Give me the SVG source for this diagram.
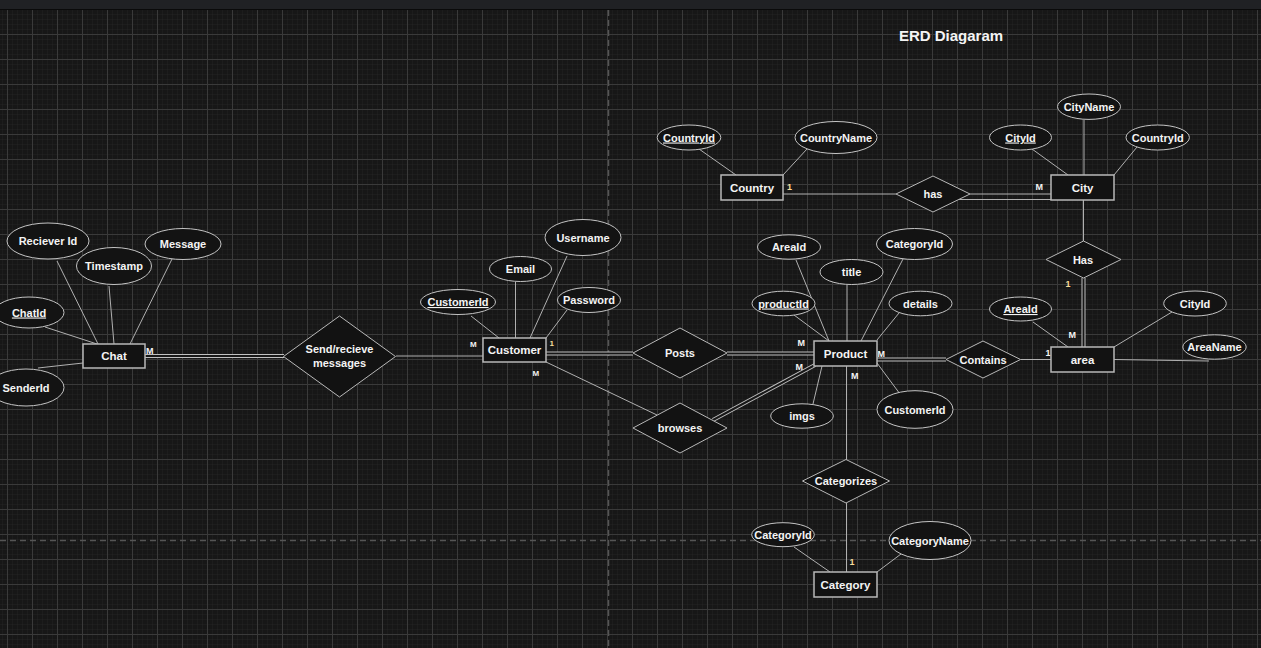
<svg xmlns="http://www.w3.org/2000/svg" width="1261" height="648" viewBox="0 0 1261 648">
<defs>
<pattern id="minor" x="7" y="9" width="5" height="5" patternUnits="userSpaceOnUse">
<path d="M0 0H5M0 0V5" stroke="#232323" stroke-width="1" fill="none"/>
</pattern>
<pattern id="major" x="7" y="9" width="25" height="25" patternUnits="userSpaceOnUse">
<path d="M0.5 0V25M0 0.5H25" stroke="#3a3a3a" stroke-width="1" fill="none"/>
</pattern>
<style>
.ent{fill:#121212;stroke:#b8b8b8;stroke-width:1.5}
.att{fill:#131313;stroke:#c4c4c4;stroke-width:1}
.rel{fill:#121212;stroke:#b8b8b8;stroke-width:1}
text{font-family:"Liberation Sans",Arial,sans-serif;font-weight:bold;fill:#f4f4f4;text-anchor:middle}
.t{font-size:11px}
.te{font-size:11.5px}
.u{text-decoration:underline}
.c{font-size:9px;text-anchor:start}
.cs{font-size:8px;text-anchor:start}
.y{fill:#f7dc9a}
.ln{stroke:#b0b0b0;stroke-width:1;fill:none}
.do{stroke:#c0c0c0;stroke-width:4;fill:none}
.di{stroke:#171717;stroke-width:2;fill:none}
</style>
</defs>
<rect x="0" y="0" width="1261" height="648" fill="#171717"/>
<rect x="0" y="10" width="1261" height="638" fill="url(#minor)"/>
<rect x="0" y="10" width="1261" height="638" fill="url(#major)"/>
<line x1="608.5" y1="10" x2="608.5" y2="648" stroke="#555" stroke-width="1.5" stroke-dasharray="6 4"/>
<line x1="0" y1="540.5" x2="1261" y2="540.5" stroke="#555" stroke-width="1.5" stroke-dasharray="6 4"/>
<rect x="0" y="0" width="1261" height="9" fill="#202124"/>
<rect x="0" y="9" width="1261" height="1" fill="#0a0a0a"/>

<text id="title" x="951" y="41" style="font-size:15px">ERD Diagaram</text>

<g id="connectors">
<!-- Chat attributes -->
<line class="ln" x1="57" y1="261" x2="98" y2="344"/>
<line class="ln" x1="109" y1="286" x2="114" y2="344"/>
<line class="ln" x1="172" y1="259" x2="130" y2="344"/>
<line class="ln" x1="45" y1="327" x2="97" y2="344"/>
<line class="ln" x1="38" y1="368" x2="83" y2="363"/>
<!-- Chat - Send/recieve (double) -->
<line class="do" x1="145" y1="356" x2="284" y2="356"/>
<line class="di" x1="145" y1="356" x2="284" y2="356"/>
<!-- Send - Customer -->
<line class="ln" x1="396" y1="356" x2="483" y2="356"/>
<!-- Customer attributes -->
<line class="ln" x1="471" y1="316" x2="499" y2="338"/>
<line class="ln" x1="515.5" y1="282" x2="515.5" y2="338"/>
<line class="ln" x1="567" y1="256" x2="530" y2="338"/>
<line class="ln" x1="567" y1="310" x2="546" y2="338"/>
<!-- Customer - Posts (double) -->
<line class="do" x1="546" y1="353.5" x2="633" y2="353.5"/>
<line class="di" x1="546" y1="353.5" x2="633" y2="353.5"/>
<!-- Customer - browses -->
<line class="ln" x1="546" y1="362" x2="657" y2="415"/>
<!-- Posts - Product (double) -->
<line class="do" x1="727" y1="353.5" x2="814" y2="353.5"/>
<line class="di" x1="727" y1="353.5" x2="814" y2="353.5"/>
<!-- browses - Product (double) -->
<line class="do" x1="713" y1="420" x2="815" y2="365"/>
<line class="di" x1="713" y1="420" x2="815" y2="365"/>
<!-- Product attributes -->
<line class="ln" x1="796" y1="260" x2="829" y2="341"/>
<line class="ln" x1="847" y1="285" x2="847" y2="341"/>
<line class="ln" x1="903" y1="259" x2="861" y2="341"/>
<line class="ln" x1="794" y1="315" x2="829" y2="341"/>
<line class="ln" x1="899" y1="313" x2="877" y2="340"/>
<line class="ln" x1="813" y1="404" x2="822" y2="366"/>
<line class="ln" x1="900" y1="394" x2="877" y2="363"/>
<!-- Product - Categorizes -->
<line class="ln" x1="846.5" y1="366" x2="846.5" y2="460"/>
<!-- Product - Contains (double) -->
<line class="do" x1="877" y1="359.5" x2="946" y2="359.5"/>
<line class="di" x1="877" y1="359.5" x2="946" y2="359.5"/>
<!-- Contains - area -->
<line class="ln" x1="1021" y1="359.5" x2="1051" y2="359.5"/>
<!-- area attributes -->
<line class="ln" x1="1033" y1="322" x2="1068" y2="347"/>
<line class="ln" x1="1172" y1="312" x2="1114" y2="347"/>
<line class="ln" x1="1114" y1="359.5" x2="1209" y2="361"/>
<!-- area - Has (double) -->
<line class="do" x1="1083.5" y1="278" x2="1083.5" y2="347"/>
<line class="di" x1="1083.5" y1="278" x2="1083.5" y2="347"/>
<!-- Has - City -->
<line class="ln" x1="1083.5" y1="200" x2="1083.5" y2="241"/>
<!-- City attributes -->
<line class="ln" x1="1032" y1="149" x2="1068" y2="175"/>
<line class="ln" x1="1084" y1="120" x2="1084" y2="175"/>
<line class="ln" x1="1137" y1="147" x2="1114" y2="175"/>
<!-- has - City -->
<line class="ln" x1="970" y1="194" x2="1051" y2="194"/>
<line class="ln" x1="959" y1="199.5" x2="1051" y2="199.5"/>
<!-- Country - has -->
<line class="ln" x1="783" y1="194" x2="896" y2="194"/>
<!-- Country attributes -->
<line class="ln" x1="699" y1="149" x2="736" y2="175"/>
<line class="ln" x1="807" y1="149" x2="783" y2="175"/>
<!-- Categorizes - Category -->
<line class="ln" x1="846.5" y1="503" x2="846.5" y2="572"/>
<!-- Category attributes -->
<line class="ln" x1="794" y1="547" x2="830" y2="572"/>
<line class="ln" x1="901" y1="554" x2="877" y2="572"/>
</g>

<g id="cardinalities">
<text class="c" x="146" y="354">M</text>
<text class="cs" x="470" y="346.5">M</text>
<text class="cs y" x="549.5" y="345.5">1</text>
<text class="cs" x="532.5" y="375.5">M</text>
<text class="c" x="797.5" y="346">M</text>
<text class="c" x="795.5" y="369.5">M</text>
<text class="c" x="851" y="378.5">M</text>
<text class="c" x="877.5" y="357">M</text>
<text class="c" x="1045.5" y="356">1</text>
<text class="c" x="1068.5" y="337.5">M</text>
<text class="c y" x="1065.5" y="287">1</text>
<text class="c" x="1035.5" y="189.5">M</text>
<text class="c y" x="787" y="189.5">1</text>
<text class="c y" x="849.5" y="565">1</text>
</g>

<!-- Entities -->
<g id="chat"><rect class="ent" x="83" y="344" width="62" height="24"/><text class="te" x="114" y="360">Chat</text></g>
<g id="customer"><rect class="ent" x="483" y="338" width="63" height="24"/><text class="te" x="514.5" y="354">Customer</text></g>
<g id="product"><rect class="ent" x="814" y="341" width="63" height="25"/><text class="te" x="845.5" y="357.5">Product</text></g>
<g id="country"><rect class="ent" x="721" y="175" width="62" height="25"/><text class="te" x="752" y="191.5">Country</text></g>
<g id="city"><rect class="ent" x="1051" y="175" width="63" height="25"/><text class="te" x="1082.5" y="191.5">City</text></g>
<g id="area"><rect class="ent" x="1051" y="347" width="63" height="25"/><text class="te" x="1082.5" y="363.5">area</text></g>
<g id="category"><rect class="ent" x="814" y="572" width="63" height="25"/><text class="te" x="845.5" y="588.5">Category</text></g>

<!-- Relationships -->
<g id="rel-send"><polygon class="rel" points="283.5,356.5 339.5,316 395.5,356.5 339.5,397"/><text class="t" x="339.5" y="353">Send/recieve</text><text class="t" x="339.5" y="367">messages</text></g>
<g id="rel-posts"><polygon class="rel" points="633,353 680,328 727,353 680,378"/><text class="t" x="680" y="357">Posts</text></g>
<g id="rel-browses"><polygon class="rel" points="633,428 680,403 727,428 680,453"/><text class="t" x="680" y="432">browses</text></g>
<g id="rel-has"><polygon class="rel" points="896,194 933,176 970,194 933,212"/><text class="t" x="933" y="198">has</text></g>
<g id="rel-has2"><polygon class="rel" points="1046,259.5 1083.5,241 1121,259.5 1083.5,278"/><text class="t" x="1083" y="263.5">Has</text></g>
<g id="rel-contains"><polygon class="rel" points="946,359.5 983,341 1020.5,359.5 983,378"/><text class="t" x="983" y="363.5">Contains</text></g>
<g id="rel-categorizes"><polygon class="rel" points="802.5,481 846,459.5 889.5,481 846,503"/><text class="t" x="846" y="485">Categorizes</text></g>

<!-- Attributes -->
<g id="att-recieverid"><ellipse class="att" cx="48" cy="241" rx="41" ry="18"/><text class="t" x="48" y="245">Reciever Id</text></g>
<g id="att-timestamp"><ellipse class="att" cx="114" cy="266" rx="37.5" ry="18.5"/><text class="t" x="114" y="270">Timestamp</text></g>
<g id="att-message"><ellipse class="att" cx="183" cy="244" rx="38" ry="15.5"/><text class="t" x="183" y="248">Message</text></g>
<g id="att-chatid"><ellipse class="att" cx="29" cy="312.5" rx="35" ry="15.5"/><text class="t u" x="29" y="316.5">ChatId</text></g>
<g id="att-senderid"><ellipse class="att" cx="26" cy="387.5" rx="38" ry="18.5"/><text class="t" x="26" y="391.5">SenderId</text></g>

<g id="att-customerid"><ellipse class="att" cx="458" cy="302" rx="37.5" ry="12.5"/><text class="t u" x="458" y="306">CustomerId</text></g>
<g id="att-email"><ellipse class="att" cx="520.5" cy="269" rx="31" ry="12.5"/><text class="t" x="520.5" y="273">Email</text></g>
<g id="att-username"><ellipse class="att" cx="583" cy="237.5" rx="38" ry="18"/><text class="t" x="583" y="241.5">Username</text></g>
<g id="att-password"><ellipse class="att" cx="589" cy="300" rx="31.5" ry="12.5"/><text class="t" x="589" y="304">Password</text></g>

<g id="att-p-areaid"><ellipse class="att" cx="789" cy="247" rx="31.5" ry="12.2"/><text class="t" x="789" y="251">AreaId</text></g>
<g id="att-title"><ellipse class="att" cx="851.5" cy="272" rx="31.5" ry="12.5"/><text class="t" x="851.5" y="276">title</text></g>
<g id="att-p-categoryid"><ellipse class="att" cx="914.5" cy="244" rx="38" ry="15.5"/><text class="t" x="914.5" y="248">CategoryId</text></g>
<g id="att-productid"><ellipse class="att" cx="783.5" cy="303.5" rx="31.5" ry="12.3"/><text class="t u" x="783.5" y="307.5">productId</text></g>
<g id="att-details"><ellipse class="att" cx="920.5" cy="303.5" rx="31.5" ry="12.3"/><text class="t" x="920.5" y="307.5">details</text></g>
<g id="att-imgs"><ellipse class="att" cx="802" cy="416" rx="31.3" ry="12.2"/><text class="t" x="802" y="420">imgs</text></g>
<g id="att-p-customerid"><ellipse class="att" cx="915" cy="409.5" rx="38" ry="18.8"/><text class="t" x="915" y="413.5">CustomerId</text></g>

<g id="att-countryid"><ellipse class="att" cx="689" cy="137.5" rx="31.8" ry="12.5"/><text class="t u" x="689" y="141.5">CountryId</text></g>
<g id="att-countryname"><ellipse class="att" cx="836" cy="137.5" rx="41" ry="16"/><text class="t" x="836" y="141.5">CountryName</text></g>

<g id="att-cityid"><ellipse class="att" cx="1020.5" cy="137.5" rx="31" ry="12.5"/><text class="t u" x="1020.5" y="141.5">CityId</text></g>
<g id="att-cityname"><ellipse class="att" cx="1089" cy="106.7" rx="31.5" ry="12.7"/><text class="t" x="1089" y="110.7">CityName</text></g>
<g id="att-c-countryid"><ellipse class="att" cx="1157.7" cy="137.5" rx="31.7" ry="12.5"/><text class="t" x="1157.7" y="141.5">CountryId</text></g>

<g id="att-areaid"><ellipse class="att" cx="1020.5" cy="309" rx="31" ry="12"/><text class="t u" x="1020.5" y="313">AreaId</text></g>
<g id="att-a-cityid"><ellipse class="att" cx="1195" cy="303.5" rx="31.3" ry="12.5"/><text class="t" x="1195" y="307.5">CityId</text></g>
<g id="att-areaname"><ellipse class="att" cx="1214.5" cy="347" rx="31.7" ry="12.2"/><text class="t" x="1214.5" y="351">AreaName</text></g>

<g id="att-categoryid"><ellipse class="att" cx="783" cy="534.7" rx="31.3" ry="12"/><text class="t" x="783" y="538.7">CategoryId</text></g>
<g id="att-categoryname"><ellipse class="att" cx="930" cy="540.5" rx="41" ry="19"/><text class="t" x="930" y="544.5">CategoryName</text></g>
</svg>
